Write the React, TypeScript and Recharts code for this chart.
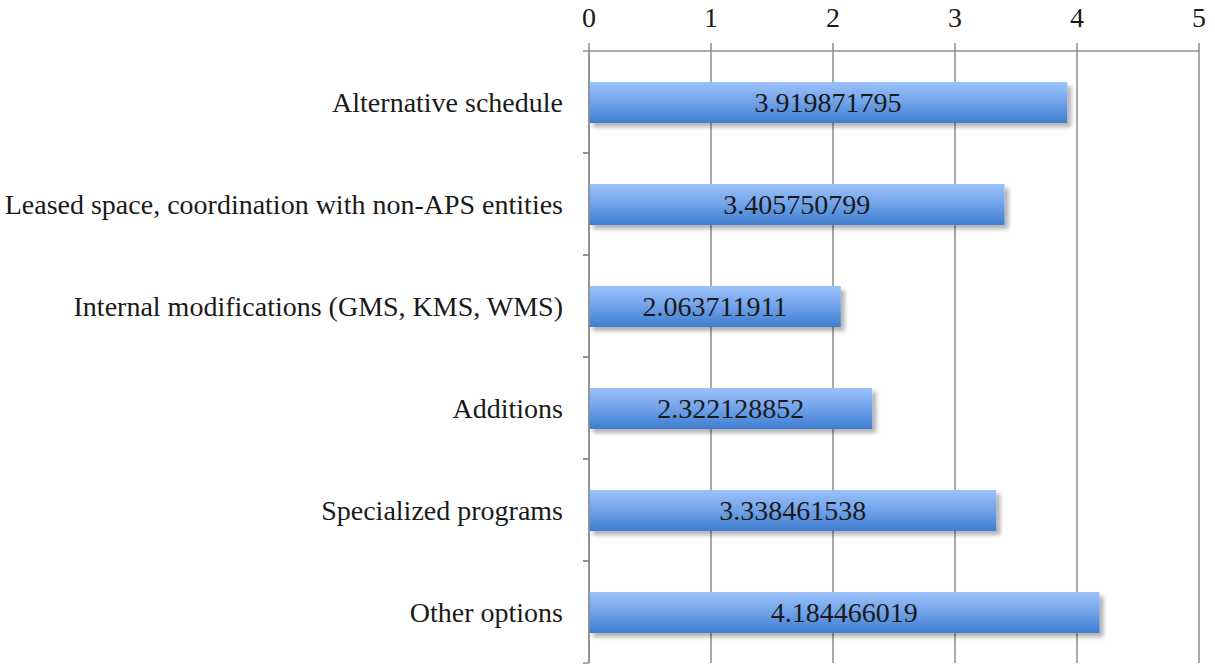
import React from "react";
import { BarChart, Bar, XAxis, YAxis, CartesianGrid, LabelList } from "recharts";

const categories = [
  "Alternative schedule",
  "Leased space, coordination with non-APS entities",
  "Internal modifications (GMS, KMS, WMS)",
  "Additions",
  "Specialized programs",
  "Other options",
];
const values = [3.919871795, 3.405750799, 2.063711911, 2.322128852, 3.338461538, 4.184466019];
const xTicks = [0, 1, 2, 3, 4, 5];

const data = categories.map((name, i) => ({ name, value: values[i] }));

const FONT = "'Liberation Serif', serif";
const GRID = "#8c8c8c";
const LABEL_GAP = 26;
const EDGE_TICK = 6;

function CategoryTick(props: any) {
  const { x, y, payload } = props;
  const half = payload && typeof payload.offset === "number" ? payload.offset : 0;
  const axisX = x + LABEL_GAP;
  return (
    <g>
      <line x1={axisX - EDGE_TICK} x2={axisX} y1={y - half} y2={y - half} stroke={GRID} strokeWidth={1.5} />
      <line x1={axisX - EDGE_TICK} x2={axisX} y1={y + half} y2={y + half} stroke={GRID} strokeWidth={1.5} />
      <text x={x} y={y} dy="0.35em" textAnchor="end" fill="#1a1a1a" fontSize={28} fontFamily={FONT}>
        {payload.value}
      </text>
    </g>
  );
}

export default function App() {
  return (
    <div style={{ position: "absolute", left: 0, top: 0, background: "#fff" }}>
      <BarChart
        layout="vertical"
        width={1215}
        height={666}
        data={data}
        margin={{ top: 0, right: 16, bottom: 3, left: 0 }}
        barSize={41}
      >
        <defs>
          <linearGradient id="barGrad" x1="0" y1="0" x2="0" y2="1">
            <stop offset="0%" stopColor="#9cc2fb" />
            <stop offset="50%" stopColor="#70a2e9" />
            <stop offset="100%" stopColor="#3e7dcf" />
          </linearGradient>
          <filter id="barShadow" x="-5%" y="-20%" width="115%" height="160%">
            <feDropShadow dx="4" dy="4" stdDeviation="2" floodColor="#000" floodOpacity="0.3" />
          </filter>
        </defs>
        <CartesianGrid horizontal={false} stroke={GRID} strokeWidth={1.5} />
        <XAxis
          type="number"
          orientation="top"
          domain={[0, 5]}
          ticks={xTicks}
          height={51}
          tickSize={8}
          tickMargin={16}
          axisLine={{ stroke: GRID, strokeWidth: 1.5 }}
          tickLine={{ stroke: GRID, strokeWidth: 1.5 }}
          tick={{ fill: "#1a1a1a", fontSize: 28, fontFamily: FONT }}
        />
        <YAxis
          type="category"
          dataKey="name"
          width={589}
          axisLine={{ stroke: GRID, strokeWidth: 1.5 }}
          tickLine={false}
          tickSize={0}
          tickMargin={LABEL_GAP}
          interval={0}
          tick={<CategoryTick />}
        />
        <Bar
          dataKey="value"
          fill="url(#barGrad)"
          filter="url(#barShadow)"
          isAnimationActive={false}
        >
          <LabelList
            dataKey="value"
            position="center"
            fill="#1a1a1a"
            fontSize={28}
            fontFamily={FONT}
          />
        </Bar>
      </BarChart>
    </div>
  );
}
